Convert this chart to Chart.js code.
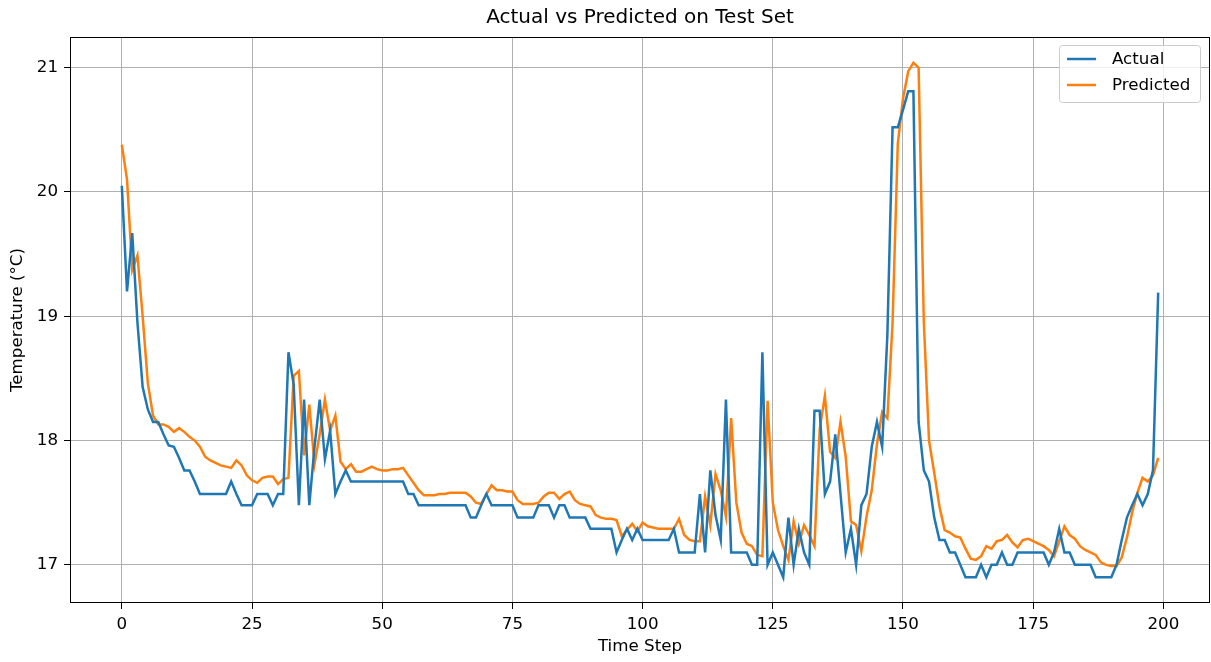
<!DOCTYPE html>
<html>
<head>
<meta charset="utf-8">
<script src="https://cdn.jsdelivr.net/npm/chart.js@4.4.1/dist/chart.umd.min.js"></script>
<style>
  html, body { margin: 0; padding: 0; background: #fff; }
  #wrap { width: 1211px; height: 662px; }
</style>
</head>
<body>
<div id="wrap"><canvas id="grafico" width="1211" height="662"></canvas></div>
<script>
const chartTitle = 'Actual vs Predicted on Test Set';
const xTitle = 'Time Step';
const yTitle = 'Temperature (°C)';
const xTicks = [0, 25, 50, 75, 100, 125, 150, 175, 200];
const yTicks = [17, 18, 19, 20, 21];

const actual = [
    20.05, 19.2, 19.67, 18.95, 18.43, 18.25, 18.15, 18.15, 18.05, 17.96,
    17.95, 17.86, 17.76, 17.76, 17.67, 17.57, 17.57, 17.57, 17.57, 17.57,
    17.57, 17.67, 17.57, 17.48, 17.48, 17.48, 17.57, 17.57, 17.57, 17.48,
    17.57, 17.57, 18.71, 18.45, 17.48, 18.33, 17.48, 17.95, 18.33, 17.85,
    18.08, 17.57, 17.67, 17.76, 17.67, 17.67, 17.67, 17.67, 17.67, 17.67,
    17.67, 17.67, 17.67, 17.67, 17.67, 17.57, 17.57, 17.48, 17.48, 17.48,
    17.48, 17.48, 17.48, 17.48, 17.48, 17.48, 17.48, 17.38, 17.38, 17.48,
    17.57, 17.48, 17.48, 17.48, 17.48, 17.48, 17.38, 17.38, 17.38, 17.38,
    17.48, 17.48, 17.48, 17.38, 17.48, 17.48, 17.38, 17.38, 17.38, 17.38,
    17.29, 17.29, 17.29, 17.29, 17.29, 17.1, 17.2, 17.29, 17.2, 17.29,
    17.2, 17.2, 17.2, 17.2, 17.2, 17.2, 17.29, 17.1, 17.1, 17.1,
    17.1, 17.57, 17.1, 17.76, 17.4, 17.2, 18.33, 17.1, 17.1, 17.1,
    17.1, 17.0, 17.0, 18.71, 17.0, 17.1, 17.0, 16.9, 17.38, 17.0,
    17.29, 17.1, 17.0, 18.24, 18.24, 17.57, 17.67, 18.05, 17.57, 17.1,
    17.29, 17.0, 17.48, 17.57, 17.95, 18.15, 17.95, 18.85, 20.52, 20.52,
    20.66, 20.81, 20.81, 18.15, 17.76, 17.67, 17.38, 17.2, 17.2, 17.1,
    17.1, 17.0, 16.9, 16.9, 16.9, 17.0, 16.9, 17.0, 17.0, 17.1,
    17.0, 17.0, 17.1, 17.1, 17.1, 17.1, 17.1, 17.1, 17.0, 17.1,
    17.29, 17.1, 17.1, 17.0, 17.0, 17.0, 17.0, 16.9, 16.9, 16.9,
    16.9, 17.0, 17.2, 17.38, 17.48, 17.57, 17.48, 17.57, 17.76, 19.19
];

const predicted = [
    20.38, 20.1, 19.37, 19.49, 19.0, 18.46, 18.2, 18.13, 18.13, 18.11,
    18.07, 18.1, 18.07, 18.03, 18.0, 17.95, 17.87, 17.84, 17.82, 17.8,
    17.79, 17.78, 17.84, 17.8, 17.72, 17.68, 17.66, 17.7, 17.71, 17.71,
    17.65, 17.69, 17.7, 18.52, 18.56, 17.88, 18.29, 17.81, 18.05, 18.33,
    18.08, 18.2, 17.83, 17.77, 17.81, 17.75, 17.75, 17.77, 17.79, 17.77,
    17.76, 17.76, 17.77, 17.77, 17.78, 17.72, 17.66, 17.6, 17.56, 17.56,
    17.56, 17.57, 17.57, 17.58, 17.58, 17.58, 17.58, 17.55, 17.5, 17.49,
    17.57, 17.64, 17.6, 17.6, 17.59, 17.59, 17.52, 17.49, 17.49, 17.49,
    17.5, 17.55, 17.58, 17.58, 17.53, 17.57, 17.59, 17.52, 17.49, 17.48,
    17.47, 17.4, 17.38, 17.37, 17.37, 17.36, 17.23, 17.28, 17.33, 17.27,
    17.34, 17.31, 17.3, 17.29, 17.29, 17.29, 17.29, 17.37, 17.24, 17.2,
    17.19, 17.19, 17.55, 17.32, 17.73, 17.6, 17.39, 18.18, 17.5, 17.26,
    17.17, 17.15, 17.08, 17.07, 18.32, 17.5, 17.28, 17.15, 17.04, 17.35,
    17.17, 17.32, 17.24, 17.15, 18.09, 18.36, 17.91, 17.86, 18.15, 17.87,
    17.35, 17.32, 17.11, 17.39, 17.6, 17.97, 18.23, 18.18, 18.95, 20.39,
    20.75, 20.97, 21.04, 21.0, 18.95, 18.0, 17.74, 17.47, 17.28, 17.26,
    17.23, 17.22, 17.13, 17.05, 17.04, 17.07, 17.15, 17.13, 17.19, 17.2,
    17.24, 17.18, 17.14, 17.2, 17.21, 17.19, 17.17, 17.15, 17.12, 17.07,
    17.19, 17.31, 17.24, 17.21, 17.15, 17.12, 17.1, 17.08, 17.02, 17.0,
    16.99, 16.99, 17.06, 17.22, 17.42, 17.58, 17.7, 17.67, 17.72, 17.86
];

const steps = actual.map((_, i) => i);
const FONT = 'DejaVu Sans';

// title centred over the axes, like matplotlib does
const tituloPlugin = {
    id: 'tituloEixos',
    afterDraw(chart) {
        const { ctx, chartArea } = chart;
        ctx.save();
        ctx.font = `20px "${FONT}"`;
        ctx.fillStyle = '#000';
        ctx.textAlign = 'center';
        ctx.textBaseline = 'middle';
        ctx.fillText(chartTitle, (chartArea.left + chartArea.right) / 2, 18);
        ctx.restore();
    }
};

// four spines + legend box in the upper right corner
const molduraPlugin = {
    id: 'moldura',
    afterDatasetsDraw(chart) {
        const { ctx, chartArea: a } = chart;
        ctx.save();
        ctx.strokeStyle = '#000';
        ctx.lineWidth = 1;
        ctx.strokeRect(a.left + 0.5, a.top + 0.5, a.right - a.left - 1, a.bottom - a.top - 1);

        const w = 141, h = 57;
        const x = a.right - 10 - w, y = a.top + 8;
        ctx.beginPath();
        ctx.roundRect(x + 0.5, y + 0.5, w, h, 3);
        ctx.fillStyle = 'rgba(255,255,255,0.8)';
        ctx.fill();
        ctx.strokeStyle = '#cccccc';
        ctx.stroke();

        ctx.font = `16.7px "${FONT}"`;
        ctx.textBaseline = 'middle';
        ctx.textAlign = 'left';
        chart.data.datasets.forEach((ds, i) => {
            const ly = y + 14 + i * 26;
            ctx.beginPath();
            ctx.moveTo(x + 8, ly);
            ctx.lineTo(x + 37, ly);
            ctx.strokeStyle = ds.borderColor;
            ctx.lineWidth = 2.5;
            ctx.stroke();
            ctx.fillStyle = '#000';
            ctx.fillText(ds.label, x + 53, ly + 1);
        });
        ctx.restore();
    }
};

const tickFont = { family: FONT, size: 16.7 };

new Chart(document.getElementById('grafico'), {
    type: 'line',
    data: {
        labels: steps,
        datasets: [
            { label: 'Actual', data: steps.map(i => ({ x: i, y: actual[i] })), borderColor: '#1f77b4', borderWidth: 2.5, pointRadius: 0, tension: 0, fill: false },
            { label: 'Predicted', data: steps.map(i => ({ x: i, y: predicted[i] })), borderColor: '#ff7f0e', borderWidth: 2.5, pointRadius: 0, tension: 0, fill: false }
        ]
    },
    options: {
        responsive: false,
        animation: false,
        devicePixelRatio: 1,
        layout: { padding: { top: 37, right: 1, left: 0, bottom: 0 } },
        plugins: { legend: { display: false }, title: { display: false }, tooltip: { enabled: false } },
        scales: {
            x: {
                type: 'linear',
                min: -9.95,
                max: 208.95,
                afterBuildTicks: s => { s.ticks = xTicks.map(v => ({ value: v })); },
                afterFit: s => { s.height = 59; },
                ticks: { color: '#000', font: tickFont, padding: 6, maxRotation: 0, callback: v => String(v) },
                grid: { color: '#b0b0b0', lineWidth: 1, tickColor: '#000', tickLength: 6, drawTicks: true },
                border: { display: false },
                title: { display: true, text: xTitle, color: '#000', font: tickFont, padding: { top: 0, bottom: 5 } }
            },
            y: {
                min: 16.693,
                max: 21.247,
                afterBuildTicks: s => { s.ticks = yTicks.map(v => ({ value: v })); },
                afterFit: s => { s.width = 70; },
                ticks: { color: '#000', font: tickFont, padding: 6, callback: v => String(v) },
                grid: { color: '#b0b0b0', lineWidth: 1, tickColor: '#000', tickLength: 6, drawTicks: true },
                border: { display: false },
                title: { display: true, text: yTitle, color: '#000', font: tickFont, padding: { top: 8, bottom: 0 } }
            }
        }
    },
    plugins: [tituloPlugin, molduraPlugin]
});
</script>
</body>
</html>
